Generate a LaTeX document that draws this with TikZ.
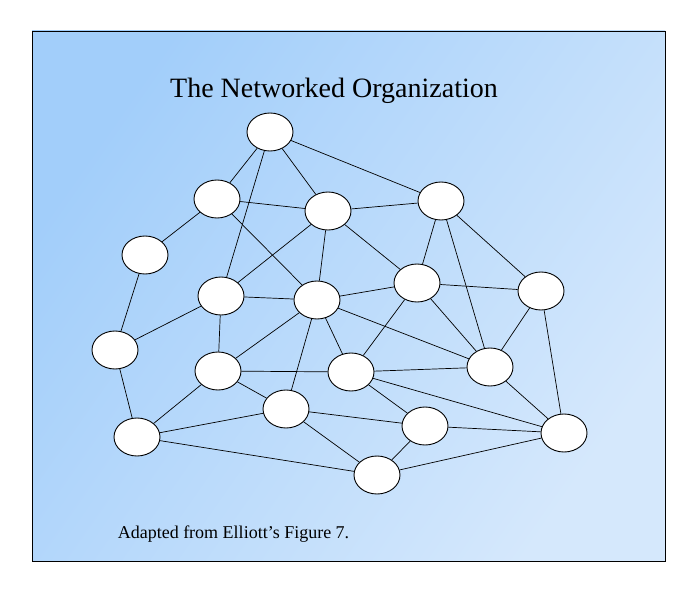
\documentclass[tikz,border=0pt]{standalone}
\usepackage{fontspec}
\setmainfont{Liberation Serif}
\usetikzlibrary{shapes.geometric}
\definecolor{bgdark}{HTML}{A2CEFA}
\definecolor{bglight}{HTML}{D5E8FC}
\tikzset{
  person/.style={ellipse, draw=black, fill=white, line width=0.9pt, minimum width=46pt, minimum height=38pt, inner sep=0pt},
  link/.style={draw=black, line width=0.7pt}
}
\begin{document}
\begin{tikzpicture}[x=1pt,y=-1pt]
\useasboundingbox (0,0) rectangle (698,594);
\shade[top color=bgdark, bottom color=bglight, shading angle=55] (32,31) rectangle (665,561);
\draw[line width=0.8pt] (32,31) rectangle (665,561);
\node[font=\fontsize{28}{33}\selectfont] (title) at (334,91) {The Networked Organization};
\node[font=\fontsize{18}{22}\selectfont] (cap) at (233.5,534) {Adapted from Elliott’s Figure 7.};
\path
 (270,132) coordinate (pA)
 (217,199) coordinate (pB)
 (328,211) coordinate (pC)
 (441,201) coordinate (pD)
 (145,255) coordinate (pE)
 (221,296) coordinate (pF)
 (317,300) coordinate (pG)
 (417,283) coordinate (pH)
 (541,291) coordinate (pI)
 (115,350) coordinate (pJ)
 (218,371) coordinate (pK)
 (351,372) coordinate (pL)
 (490,367) coordinate (pM)
 (137,437) coordinate (pN)
 (286,409) coordinate (pO)
 (425,426) coordinate (pP)
 (564,433) coordinate (pQ)
 (377,475) coordinate (pR);
\foreach \n in {A,B,C,D,E,F,G,H,I,J,K,L,M,N,O,P,Q,R}
  \node[person] (\n) at (p\n) {};
\foreach \a/\b in {A/B,A/C,A/D,A/F,B/C,B/E,B/G,C/D,C/F,C/G,C/H,D/H,D/M,D/I,E/J,F/G,F/J,F/K,G/H,G/K,G/O,G/L,G/M,H/I,H/L,H/M,I/M,I/Q,J/N,K/L,K/N,K/O,L/M,L/P,L/Q,M/Q,N/O,N/R,O/P,O/R,P/Q,P/R,R/Q}
  \draw[link] (\a) -- (\b);
\end{tikzpicture}
\end{document}
